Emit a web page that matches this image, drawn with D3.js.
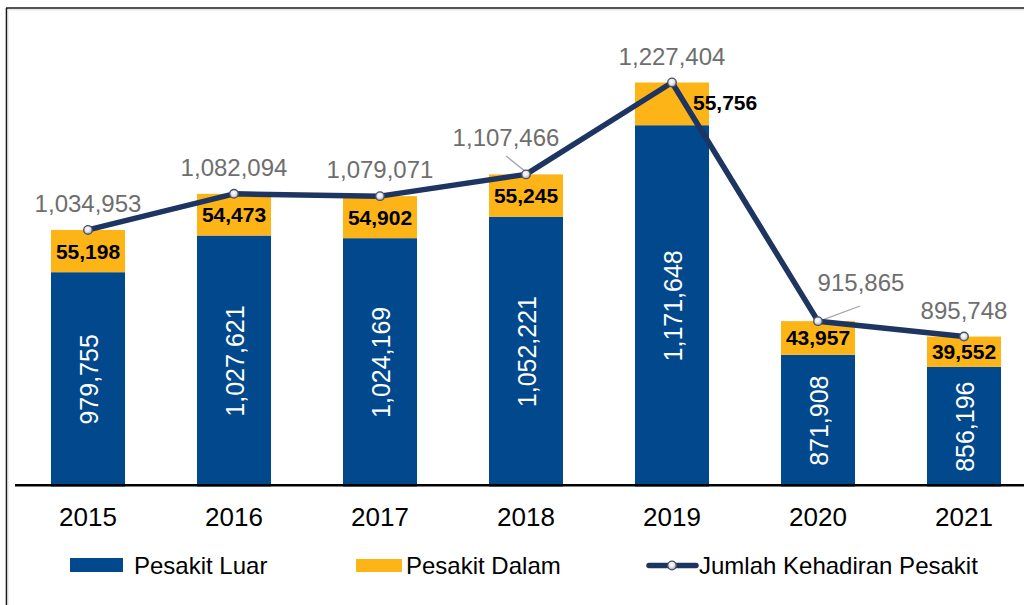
<!DOCTYPE html>
<html>
<head>
<meta charset="utf-8">
<script src="https://cdn.jsdelivr.net/npm/d3@7/dist/d3.min.js"></script>
<style>
  html, body { margin: 0; padding: 0; background: #fff; }
  svg { display: block; font-family: "Liberation Sans", Arial, Helvetica, sans-serif; }
</style>
</head>
<body>
<svg id="chart" width="1024" height="605"></svg>
<script>
// Patient attendance per year
const years = ["2015", "2016", "2017", "2018", "2019", "2020", "2021"];
const outpatients = [979755, 1027621, 1024169, 1052221, 1171648, 871908, 856196];  // Pesakit Luar
const inpatients  = [55198, 54473, 54902, 55245, 55756, 43957, 39552];              // Pesakit Dalam
const totals      = [1034953, 1082094, 1079071, 1107466, 1227404, 915865, 895748];  // Jumlah Kehadiran Pesakit
const seriesNames = ["Pesakit Luar", "Pesakit Dalam", "Jumlah Kehadiran Pesakit"];
const yDomain = [700000, 1300000];

const colors = { outer: "#01498c", inner: "#fdb416", line: "#1e3461", total: "#6e6e6e" };
const fmt = d3.format(",");

const svg = d3.select("#chart");
const W = 1024;

// frame
svg.append("line").attr("x1", 6.5).attr("y1", 8).attr("x2", 6.5).attr("y2", 605)
  .attr("stroke", "#1a1a1a").attr("stroke-width", 1.6);
svg.append("line").attr("x1", 8).attr("y1", 9.8).attr("x2", 8).attr("y2", 605)
  .attr("stroke", "#dddddd").attr("stroke-width", 1);
svg.append("line").attr("x1", 6).attr("y1", 8).attr("x2", W).attr("y2", 8)
  .attr("stroke", "#1a1a1a").attr("stroke-width", 1.6);
svg.append("line").attr("x1", 8).attr("y1", 9.8).attr("x2", W).attr("y2", 9.8)
  .attr("stroke", "#dddddd").attr("stroke-width", 1);

const x = d3.scaleBand().domain(years).range([15, 1037]).paddingInner(0.493).paddingOuter(0.2465);
const y = d3.scaleLinear().domain(yDomain).range([486.5, 26.9]);

const rows = years.map((yr, i) => ({ yr, out: outpatients[i], inn: inpatients[i], tot: totals[i] }));
const cx = d => x(d.yr) + x.bandwidth() / 2;

// outpatient bars
svg.append("g").selectAll("rect").data(rows).join("rect")
  .attr("x", d => x(d.yr)).attr("width", x.bandwidth())
  .attr("y", d => y(d.out)).attr("height", d => y(yDomain[0]) - y(d.out))
  .attr("fill", colors.outer);

// inpatient bars stacked on top
svg.append("g").selectAll("rect").data(rows).join("rect")
  .attr("x", d => x(d.yr)).attr("width", x.bandwidth())
  .attr("y", d => y(d.out + d.inn)).attr("height", d => y(d.out) - y(d.out + d.inn))
  .attr("fill", colors.inner);

// outpatient value labels (rotated)
svg.append("g").selectAll("text").data(rows).join("text")
  .attr("transform", d => `translate(${cx(d) + 1},${(y(d.out) + y(yDomain[0])) / 2}) rotate(-90)`)
  .attr("text-anchor", "middle").attr("dominant-baseline", "central")
  .attr("font-size", 25).attr("fill", "#ffffff")
  .text(d => fmt(d.out));

// inpatient value labels (2019 sits beside the bar, clear of the line)
svg.append("g").selectAll("text").data(rows).join("text")
  .attr("x", d => d.yr === "2019" ? cx(d) + 21 : cx(d))
  .attr("y", d => d.yr === "2019" ? y(d.out + d.inn) + 20 : (y(d.out) + y(d.out + d.inn)) / 2)
  .attr("text-anchor", d => d.yr === "2019" ? "start" : "middle")
  .attr("dominant-baseline", "central")
  .attr("font-size", 21).attr("font-weight", "bold").attr("fill", "#000")
  .text(d => fmt(d.inn));

// x axis
svg.append("line").attr("x1", 15).attr("x2", W).attr("y1", 485.3).attr("y2", 485.3)
  .attr("stroke", "#000").attr("stroke-width", 2.4);
svg.append("g").selectAll("text").data(years).join("text")
  .attr("x", d => x(d) + x.bandwidth() / 2).attr("y", 526)
  .attr("text-anchor", "middle").attr("font-size", 26).attr("fill", "#000")
  .text(d => d);

// marker gradient
const defs = svg.append("defs");
const grad = defs.append("radialGradient").attr("id", "dot").attr("cx", "45%").attr("cy", "40%").attr("r", "60%");
grad.append("stop").attr("offset", "0%").attr("stop-color", "#ffffff");
grad.append("stop").attr("offset", "55%").attr("stop-color", "#dfe4ec");
grad.append("stop").attr("offset", "100%").attr("stop-color", "#8a96aa");

// total labels; a couple sit off-centre with a leader line
const labelShift = { "2018": [-20, -2], "2020": [43, -4] };
const leaders = { "2018": [[506, 156], [-2, -4]], "2020": [[860, 306], [4, -1]] };

svg.append("g").selectAll("line").data(rows.filter(d => leaders[d.yr])).join("line")
  .attr("x1", d => leaders[d.yr][0][0]).attr("y1", d => leaders[d.yr][0][1])
  .attr("x2", d => cx(d) + leaders[d.yr][1][0]).attr("y2", d => y(d.tot) + leaders[d.yr][1][1])
  .attr("stroke", "#a6a6a6").attr("stroke-width", 1.3);

svg.append("g").selectAll("text").data(rows).join("text")
  .attr("x", d => cx(d) + (labelShift[d.yr] ? labelShift[d.yr][0] : 0))
  .attr("y", d => y(d.tot) - 18 + (labelShift[d.yr] ? labelShift[d.yr][1] - 8 : 0))
  .attr("text-anchor", "middle").attr("font-size", 24).attr("fill", colors.total)
  .text(d => fmt(d.tot));

// total line
const line = d3.line().x(cx).y(d => y(d.tot));
svg.append("path").datum(rows).attr("d", line)
  .attr("fill", "none").attr("stroke", colors.line).attr("stroke-width", 5.5)
  .attr("stroke-linejoin", "round");
svg.append("g").selectAll("circle").data(rows).join("circle")
  .attr("cx", cx).attr("cy", d => y(d.tot)).attr("r", 4.3)
  .attr("fill", "url(#dot)").attr("stroke", "#4a5060").attr("stroke-width", 1.3);

// legend
const lg = svg.append("g").attr("font-size", 24).attr("fill", "#000");
lg.append("rect").attr("x", 70).attr("y", 558).attr("width", 53).attr("height", 14).attr("fill", colors.outer);
lg.append("text").attr("x", 134).attr("y", 574).text(seriesNames[0]);
lg.append("rect").attr("x", 356).attr("y", 559).attr("width", 46).attr("height", 13).attr("fill", colors.inner);
lg.append("text").attr("x", 406).attr("y", 574).text(seriesNames[1]);
lg.append("line").attr("x1", 649).attr("x2", 696).attr("y1", 565.5).attr("y2", 565.5)
  .attr("stroke", colors.line).attr("stroke-width", 5.5).attr("stroke-linecap", "round");
lg.append("circle").attr("cx", 672).attr("cy", 565.5).attr("r", 4.3)
  .attr("fill", "url(#dot)").attr("stroke", "#4a5060").attr("stroke-width", 1.3);
lg.append("text").attr("x", 699).attr("y", 574).text(seriesNames[2]);
</script>
</body>
</html>
